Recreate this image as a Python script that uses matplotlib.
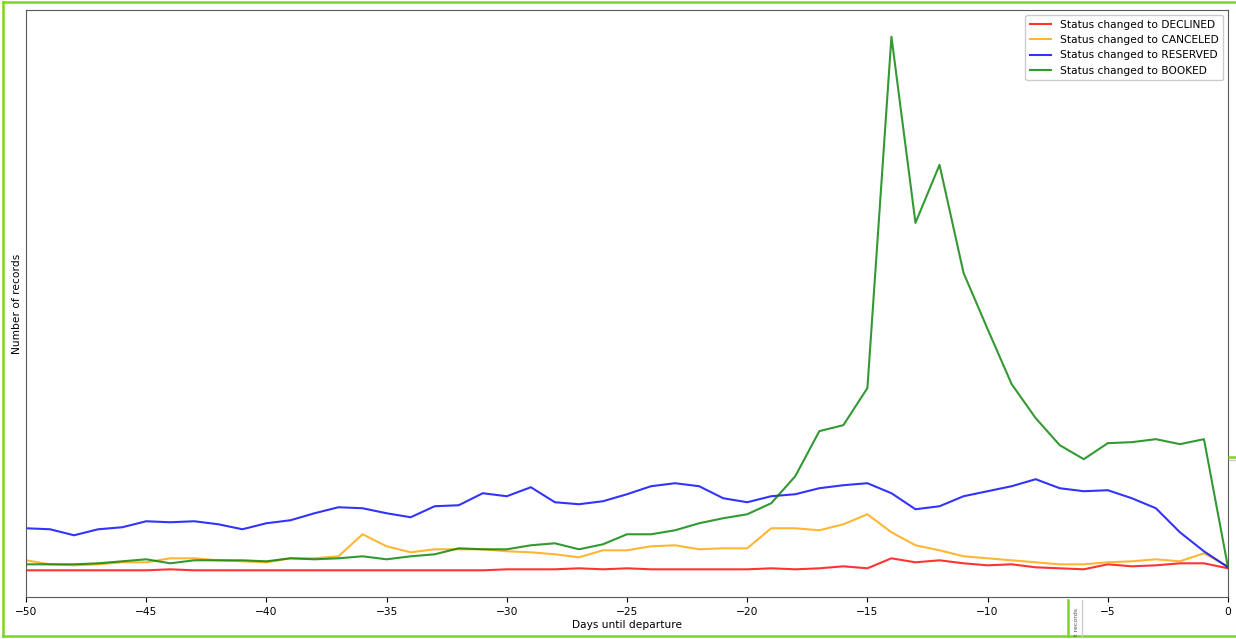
import matplotlib
matplotlib.use("Agg")
import matplotlib.pyplot as plt
from matplotlib.lines import Line2D

days = list(range(-50, 1))

declined = [3, 3, 3, 3, 3, 3, 4, 3, 3, 3, 3, 3, 3, 3, 3, 3, 3, 3, 3, 3,
            4, 4, 4, 5, 4, 5, 4, 4, 4, 4, 4, 5, 4, 5, 7, 5, 15, 11, 13, 10,
            8, 9, 6, 5, 4, 9, 7, 8, 10, 10, 5]
canceled_px = [559, 563, 564, 563, 561, 561, 557, 557, 559, 560,
               561, 557, 557, 555, 533, 545, 551, 548, 548, 548,
               550, 551, 553, 556, 549, 549, 545, 544, 548, 547,
               547, 527, 527, 529, 523, 513, 531, 544, 549, 555,
               557, 559, 561, 563, 563, 561, 560, 558, 560, 552, 565]
reserved_px = [527, 528, 534, 528, 526, 520, 521, 520, 523, 528,
               522, 519, 512, 506, 507, 512, 516, 505, 504, 492,
               495, 486, 501, 503, 500, 493, 485, 482, 485, 497,
               501, 495, 493, 487, 484, 482, 492, 508, 505, 495,
               490, 485, 478, 487, 490, 489, 497, 507, 531, 550, 566]
booked_px = [563, 563, 563, 562, 560, 558, 562, 559, 559, 559,
             560, 557, 558, 557, 555, 558, 555, 553, 547, 548,
             548, 544, 542, 548, 543, 533, 533, 529, 522, 517,
             513, 502, 475, 430, 424, 387, 36, 222, 164, 272,
             328, 383, 417, 444, 458, 442, 441, 438, 443, 438, 566]
canceled = [572 - v for v in canceled_px]
reserved = [572 - v for v in reserved_px]
booked = [572 - v for v in booked_px]

series = [
    ("Status changed to DECLINED", declined, "red"),
    ("Status changed to CANCELED", canceled, "orange"),
    ("Status changed to RESERVED", reserved, "blue"),
    ("Status changed to BOOKED", booked, "green"),
]

fs = 7.7
fig = plt.figure(figsize=(12.36, 6.39), dpi=100)
ax = fig.add_axes([26 / 1236, 1 - 597 / 639, (1228 - 26) / 1236, (597 - 10) / 639])
for label, vals, col in series:
    ax.plot(days, vals, color=col, alpha=0.8, lw=1.5, label=label)

ax.set_xlim(-50, 0)
ax.set_xticks(range(-50, 1, 5))
ax.set_yticks([])
ax.tick_params(axis="x", labelsize=fs)
ax.set_xlabel("Days until departure", fontsize=fs, labelpad=2)
ax.set_ylabel("Number of records", fontsize=fs, labelpad=3)
for s in ax.spines.values():
    s.set_color("0.35")
ax.legend(loc="upper right", fontsize=fs, framealpha=1)

# screenshot frame
g = "#7fd41e"
tf = fig.transFigure
fig.add_artist(Line2D([2.5 / 1236, 2.5 / 1236], [0.004, 1 - 2 / 639], color=g, lw=1.8, transform=tf))
fig.add_artist(Line2D([2.5 / 1236, 1.0], [1 - 2 / 639, 1 - 2 / 639], color=g, lw=1.8, transform=tf))
fig.add_artist(Line2D([2.5 / 1236, 1.0], [3 / 639, 3 / 639], color=g, lw=1.8, transform=tf))
fig.add_artist(Line2D([1068 / 1236, 1068 / 1236], [3 / 639, 1 - 600 / 639], color=g, lw=1.8, transform=tf))
fig.add_artist(Line2D([1082 / 1236, 1082 / 1236], [3 / 639, 1 - 600 / 639], color="0.8", lw=1, transform=tf))
fig.add_artist(Line2D([1229 / 1236, 1.0], [1 - 457 / 639, 1 - 457 / 639], color=g, lw=1.8, transform=tf))
fig.add_artist(Line2D([1229 / 1236, 1.0], [1 - 460 / 639, 1 - 460 / 639], color="0.8", lw=1, transform=tf))
fig.text(1076 / 1236, 1 - 622 / 639, "t records", rotation=90, fontsize=4.5, color="0.3",
         ha="center", va="center")

fig.savefig("out.png", dpi=100)
